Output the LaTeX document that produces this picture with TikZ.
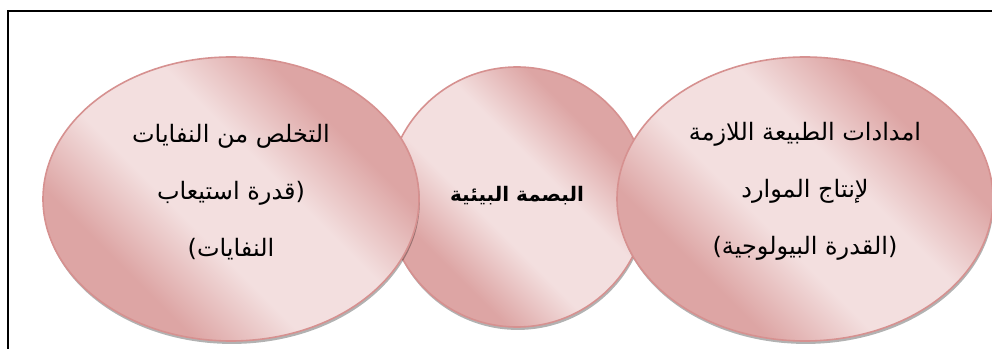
\documentclass[tikz,border=0pt]{standalone}
\usepackage{fontspec}
\usetikzlibrary{shapes.geometric,shadows}
\newfontfamily\arabicfont[Script=Arabic]{DejaVu Sans}
\TeXXeTstate=1
\definecolor{pinkL}{HTML}{F3DFDF}
\definecolor{pinkD}{HTML}{DDA5A4}
\definecolor{pinkB}{HTML}{D69190}
\pgfdeclareverticalshading{blobshade}{100bp}{color(0bp)=(pinkD); color(31bp)=(pinkD); color(43bp)=(pinkL); color(57bp)=(pinkL); color(69bp)=(pinkD); color(100bp)=(pinkD)}
\tikzset{
  blob/.style={ellipse, draw=pinkB, line width=1.2pt,
    shading=blobshade, shading angle=-45,
    drop shadow={shadow xshift=0.6pt, shadow yshift=-2.2pt, fill=black, opacity=0.3},
    inner sep=0pt},
  lbl/.style={align=center, font=\arabicfont\fontsize{18}{42.75}\selectfont, text=black, inner sep=0pt},
  midlbl/.style={font=\arabicfont\bfseries\fontsize{15}{16}\selectfont, text=black, inner sep=0pt},
  frame/.style={line width=1pt, draw=black},
}
\begin{document}
\begin{tikzpicture}[x=0.75pt,y=-0.75pt]
\useasboundingbox (0,0) rectangle (992,349);
\coordinate (fbl) at (8,352);
\coordinate (ftl) at (8,11);
\coordinate (ftr) at (995,11);
\draw[frame] (fbl) -- (ftl) -- (ftr);

\node[blob, minimum width=195pt, minimum height=195pt] (mid) at (517,197) {};
\node[blob, minimum width=282pt, minimum height=213pt] (left) at (231,199) {};
\node[blob, minimum width=282pt, minimum height=213pt] (right) at (805,199) {};

\node[midlbl] (midtext) at (517,196) {\beginR البصمة البيئية\endR};
\node[lbl] (lefttext) at (231,192) {\beginR التخلص من النفايات\endR\\ \beginR (قدرة استيعاب\endR\\ \beginR النفايات)\endR};
\node[lbl] (righttext) at (805,191) {\beginR امدادات الطبيعة اللازمة\endR\\ \beginR لإنتاج الموارد\endR\\ \beginR (القدرة البيولوجية)\endR};
\end{tikzpicture}
\end{document}
